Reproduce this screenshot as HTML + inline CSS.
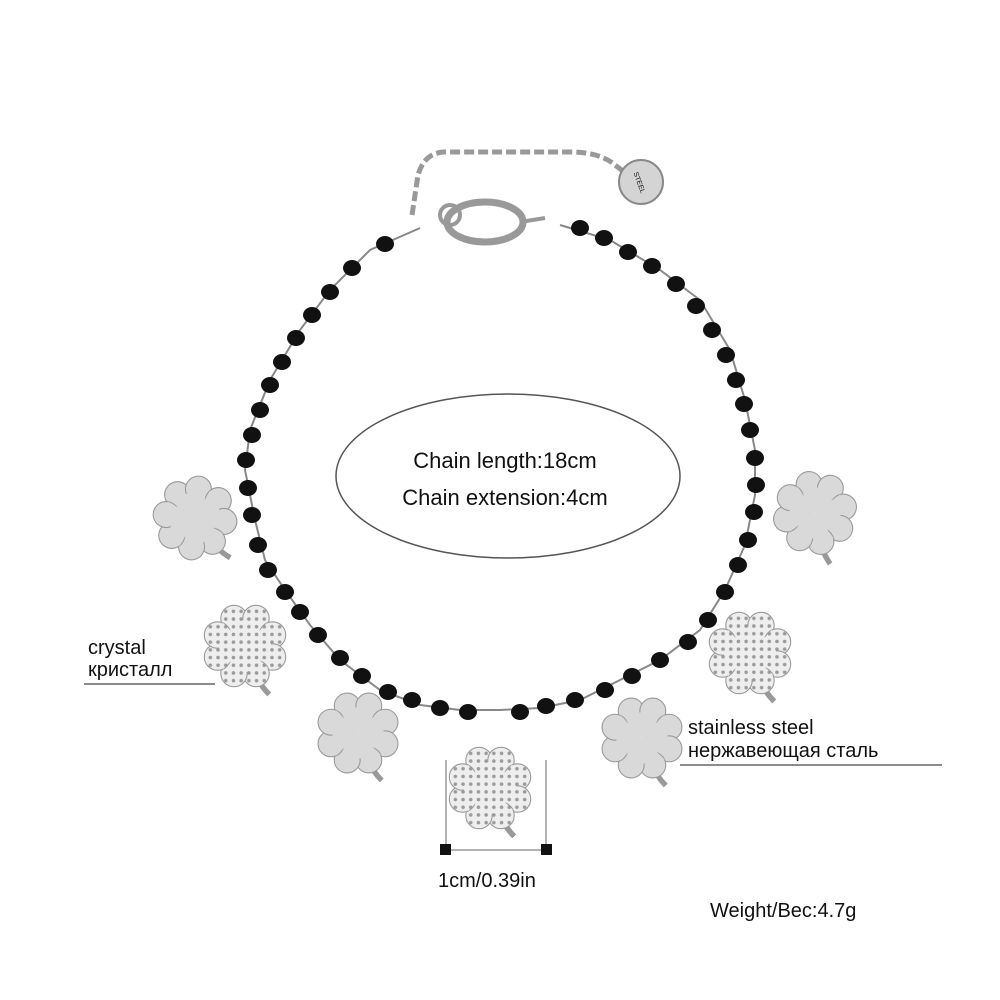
<!DOCTYPE html>
<html><head><meta charset="utf-8"><style>
body{margin:0;background:#fff;}
svg{display:block}
text{font-family:"Liberation Sans","DejaVu Sans",sans-serif;fill:#111}
</style></head><body>
<svg width="1000" height="1000" viewBox="0 0 1000 1000">
<defs>
<pattern id="dots" width="7" height="7" patternUnits="userSpaceOnUse">
<rect width="7" height="7" fill="#eee"/><circle cx="3.5" cy="3.5" r="1.6" fill="#9a9a9a"/></pattern>
<g id="leaf">
<circle cx="-10" cy="-25" r="12"/>
<circle cx="10" cy="-25" r="12"/>
<path d="M0,0 L-21,-20 L0,-24 L21,-20 Z" stroke="none"/>
</g>
<g id="clover">
<path d="M6,18 Q12,34 22,44" fill="none" stroke-width="5"/>
<use href="#leaf"/>
<use href="#leaf" transform="rotate(90)"/>
<use href="#leaf" transform="rotate(180)"/>
<use href="#leaf" transform="rotate(270)"/>
</g>
</defs>
<path d="M412,215 L418,175 Q425,150 450,152 L570,152 Q600,152 615,165 L632,178" fill="none" stroke="#999" stroke-width="5" stroke-dasharray="10 4"/>
<circle cx="641" cy="182" r="22" fill="#d4d4d4" stroke="#888" stroke-width="2"/>
<text x="641" y="186" font-size="7" text-anchor="middle" transform="rotate(70 641 182)">STEEL</text>
<ellipse cx="485" cy="222" rx="38" ry="20" fill="none" stroke="#999" stroke-width="7"/>
<circle cx="450" cy="215" r="10" fill="none" stroke="#999" stroke-width="4"/>
<path d="M520,222 L545,218" stroke="#999" stroke-width="4"/>
<path d="M420,228 L370,250 L330,290 L300,330 L270,380 L250,430 L245,470 L255,520 L265,560 L285,590 L310,625 L340,660 L380,690 L420,705 L460,710 L500,710 L540,708 L580,700 L620,680 L660,660 L700,630 L725,590 L745,545 L755,495 L755,450 L745,400 L730,350 L700,300 L660,270 L610,240 L560,225" fill="none" stroke="#888" stroke-width="2"/>
<g fill="#111">
<ellipse cx="385" cy="244" rx="9" ry="8"/><ellipse cx="352" cy="268" rx="9" ry="8"/><ellipse cx="330" cy="292" rx="9" ry="8"/>
<ellipse cx="312" cy="315" rx="9" ry="8"/><ellipse cx="296" cy="338" rx="9" ry="8"/><ellipse cx="282" cy="362" rx="9" ry="8"/>
<ellipse cx="270" cy="385" rx="9" ry="8"/><ellipse cx="260" cy="410" rx="9" ry="8"/><ellipse cx="252" cy="435" rx="9" ry="8"/>
<ellipse cx="246" cy="460" rx="9" ry="8"/><ellipse cx="248" cy="488" rx="9" ry="8"/><ellipse cx="252" cy="515" rx="9" ry="8"/>
<ellipse cx="258" cy="545" rx="9" ry="8"/><ellipse cx="268" cy="570" rx="9" ry="8"/><ellipse cx="285" cy="592" rx="9" ry="8"/>
<ellipse cx="300" cy="612" rx="9" ry="8"/><ellipse cx="318" cy="635" rx="9" ry="8"/><ellipse cx="340" cy="658" rx="9" ry="8"/>
<ellipse cx="362" cy="676" rx="9" ry="8"/><ellipse cx="388" cy="692" rx="9" ry="8"/><ellipse cx="412" cy="700" rx="9" ry="8"/>
<ellipse cx="440" cy="708" rx="9" ry="8"/><ellipse cx="468" cy="712" rx="9" ry="8"/><ellipse cx="520" cy="712" rx="9" ry="8"/>
<ellipse cx="546" cy="706" rx="9" ry="8"/><ellipse cx="575" cy="700" rx="9" ry="8"/><ellipse cx="605" cy="690" rx="9" ry="8"/>
<ellipse cx="632" cy="676" rx="9" ry="8"/><ellipse cx="660" cy="660" rx="9" ry="8"/><ellipse cx="688" cy="642" rx="9" ry="8"/>
<ellipse cx="708" cy="620" rx="9" ry="8"/><ellipse cx="725" cy="592" rx="9" ry="8"/><ellipse cx="738" cy="565" rx="9" ry="8"/>
<ellipse cx="748" cy="540" rx="9" ry="8"/><ellipse cx="754" cy="512" rx="9" ry="8"/><ellipse cx="756" cy="485" rx="9" ry="8"/>
<ellipse cx="755" cy="458" rx="9" ry="8"/><ellipse cx="750" cy="430" rx="9" ry="8"/><ellipse cx="744" cy="404" rx="9" ry="8"/>
<ellipse cx="736" cy="380" rx="9" ry="8"/><ellipse cx="726" cy="355" rx="9" ry="8"/><ellipse cx="712" cy="330" rx="9" ry="8"/>
<ellipse cx="696" cy="306" rx="9" ry="8"/><ellipse cx="676" cy="284" rx="9" ry="8"/><ellipse cx="652" cy="266" rx="9" ry="8"/>
<ellipse cx="628" cy="252" rx="9" ry="8"/><ellipse cx="604" cy="238" rx="9" ry="8"/><ellipse cx="580" cy="228" rx="9" ry="8"/>
</g>
<g fill="#d9d9d9" stroke="#999" stroke-width="1">
<use href="#clover" transform="translate(195,518) scale(1.08) rotate(-15)"/>
<use href="#clover" transform="translate(815,513) scale(1.08) rotate(10)"/>
<use href="#clover" transform="translate(358,733) scale(1.08)"/>
<use href="#clover" transform="translate(642,738) scale(1.08)"/>
</g>
<g fill="url(#dots)" stroke="#999" stroke-width="1">
<use href="#clover" transform="translate(245,646) scale(1.1)"/>
<use href="#clover" transform="translate(750,653) scale(1.1)"/>
<use href="#clover" transform="translate(490,788) scale(1.1)"/>
</g>
<ellipse cx="508" cy="476" rx="172" ry="82" fill="#fff" stroke="#555" stroke-width="1.5"/>
<text x="505" y="468" font-size="22" text-anchor="middle">Chain length:18cm</text>
<text x="505" y="505" font-size="22" text-anchor="middle">Chain extension:4cm</text>
<text x="88" y="654" font-size="20">crystal</text>
<text x="88" y="676" font-size="20">кристалл</text>
<line x1="84" y1="684" x2="215" y2="684" stroke="#666" stroke-width="1.5"/>
<text x="688" y="734" font-size="20">stainless steel</text>
<text x="688" y="757" font-size="20">нержавеющая сталь</text>
<line x1="680" y1="765" x2="942" y2="765" stroke="#666" stroke-width="1.5"/>
<line x1="446" y1="760" x2="446" y2="850" stroke="#666" stroke-width="1"/>
<line x1="546" y1="760" x2="546" y2="850" stroke="#666" stroke-width="1"/>
<line x1="446" y1="850" x2="546" y2="850" stroke="#666" stroke-width="1"/>
<rect x="440" y="844" width="11" height="11" fill="#111"/>
<rect x="541" y="844" width="11" height="11" fill="#111"/>
<text x="438" y="887" font-size="20">1cm/0.39in</text>
<text x="710" y="917" font-size="20">Weight/Bec:4.7g</text>
</svg>
</body></html>
